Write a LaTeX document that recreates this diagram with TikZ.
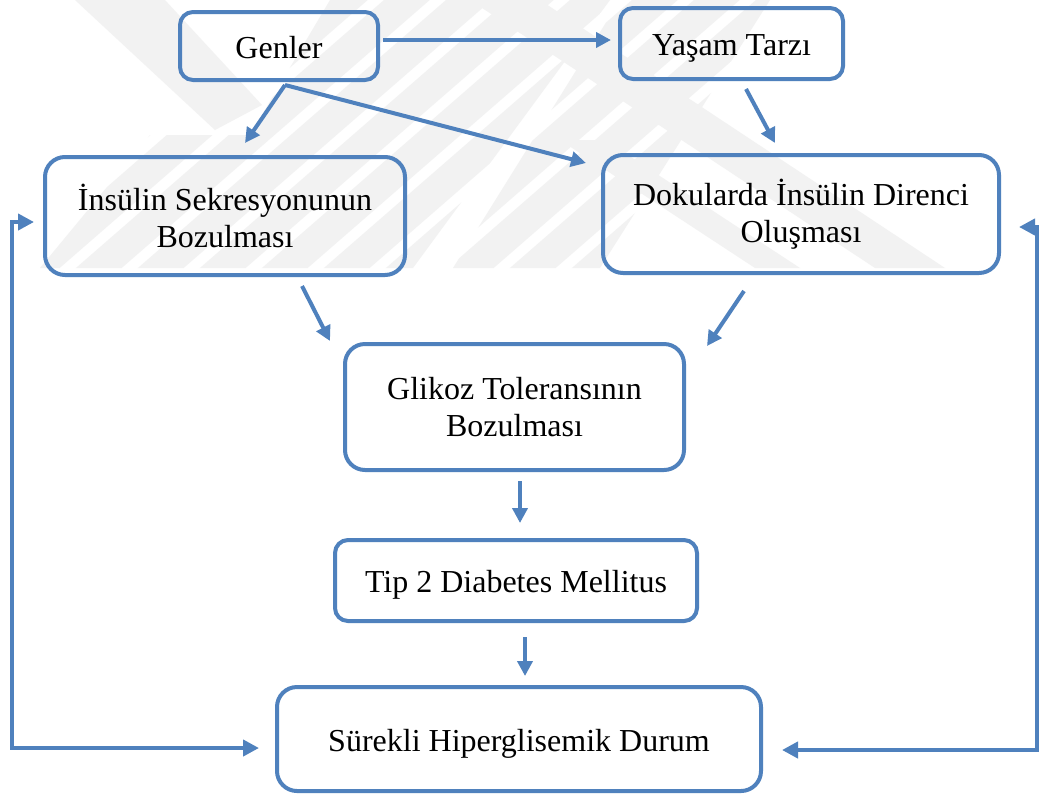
\documentclass[tikz,border=0pt]{standalone}
\usepackage{fontspec}
\setmainfont{Liberation Serif}
\usetikzlibrary{arrows.meta,calc}
\definecolor{myblue}{RGB}{79,129,189}
\definecolor{wmgray}{RGB}{242,242,242}
\begin{document}
\begin{tikzpicture}[x=1pt,y=-1pt,
  box/.style={draw=myblue, line width=4pt, align=center, inner sep=0pt,
    font=\fontsize{32}{37}\selectfont, fill=none},
  oneline/.style={text height=30pt, text depth=6pt},
  smallbox/.style={box, rounded corners=13pt},
  bigbox/.style={box, rounded corners=20pt},
  arr/.style={draw=myblue, line width=4pt, -{Triangle[length=15pt,width=15pt]}},
  darr/.style={draw=myblue, line width=4pt, {Triangle[length=16pt,width=16pt]}-{Triangle[length=16pt,width=16pt]}},
  wm/.style={draw=wmgray, line width=30pt},
  wmfill/.style={fill=wmgray, draw=none}]
\useasboundingbox (0,0) rectangle (1040,796);
\fill[white] (0,0) rectangle (1040,796);

% faint watermark
\fill[wmfill] (75,0) -- (165,0) -- (262,105) -- (215,130) -- cycle;
\begin{scope}
  \clip (330,0) -- (610,0) -- (413,268) -- (40,268) -- (150,135) -- (250,135) -- cycle;
  \foreach \k in {-6,...,14} \draw[wm] (\k*62, 300) -- ++(400,-348);
\end{scope}
\fill[wmfill] (470,0) -- (540,0) -- (945,268) -- (875,268) -- cycle;
\fill[wmfill] (560,140) -- (605,140) -- (800,268) -- (755,268) -- cycle;
\begin{scope}
  \clip (453,268) -- (600,268) -- (770,0) -- (620,0) -- cycle;
  \foreach \k in {-2,...,20} \draw[wm] (\k*62, 300) -- ++(400,-348);
\end{scope}

% boxes
\node[smallbox, oneline, minimum width=198pt, minimum height=68pt] (genler) at (279,46) {Genler};
\node[smallbox, oneline, minimum width=223pt, minimum height=71pt] (yasam) at (731.5,43.5) {Yaşam Tarzı};
\node[bigbox, minimum width=360pt, minimum height=118pt] (insulin) at (225,216) {İnsülin Sekresyonunun\\Bozulması};
\node[bigbox, minimum width=396pt, minimum height=118pt] (doku) at (801,214) {Dokularda İnsülin Direnci\\Oluşması};
\node[bigbox, minimum width=339pt, minimum height=126pt] (glikoz) at (514.5,407) {Glikoz Toleransının\\Bozulması};
\node[smallbox, oneline, minimum width=362pt, minimum height=81pt] (tip) at (516,580.5) {Tip 2 Diabetes Mellitus};
\node[bigbox, oneline, minimum width=484pt, minimum height=104pt] (surekli) at (519,739) {Sürekli Hiperglisemik Durum};

% connectors
\draw[arr] ([xshift=3pt,yshift=6pt]genler.east) -- ([xshift=-7pt,yshift=3.5pt]yasam.west);
\draw[arr] ([xshift=6pt,yshift=-3pt]genler.south) -- ([xshift=20pt,yshift=12pt]insulin.north);
\draw[arr] ([xshift=6pt,yshift=-3pt]genler.south) -- ([xshift=-15pt,yshift=-10pt]doku.north west);
\draw[arr] ([xshift=14.5pt,yshift=-8pt]yasam.south) -- ([xshift=-26pt,yshift=10pt]doku.north);
\draw[arr] ([xshift=77pt,yshift=-9pt]insulin.south) -- ([xshift=-13pt,yshift=1pt]glikoz.north west);
\draw[arr] ([xshift=-57pt,yshift=-16pt]doku.south) -- ([xshift=21pt,yshift=-4pt]glikoz.north east);
\draw[arr] ([xshift=5.5pt,yshift=-9pt]glikoz.south) -- ([xshift=4pt,yshift=15pt]tip.north);
\draw[arr] ([xshift=9pt,yshift=-14pt]tip.south) -- ([xshift=6pt,yshift=9pt]surekli.north);

% feedback loops
\coordinate (lbot) at (12,748);
\coordinate (ltop) at (12,222);
\coordinate (rbot) at (1037,750);
\coordinate (rtop) at (1037,227);
\draw[darr] ([xshift=-16pt,yshift=-9pt]surekli.west) -- (lbot) -- (ltop) -- ([xshift=-9pt,yshift=-6pt]insulin.west);
\draw[darr] ([xshift=19pt,yshift=-11pt]surekli.east) -- (rbot) -- (rtop) -- ([xshift=18pt,yshift=-13pt]doku.east);
\end{tikzpicture}
\end{document}
